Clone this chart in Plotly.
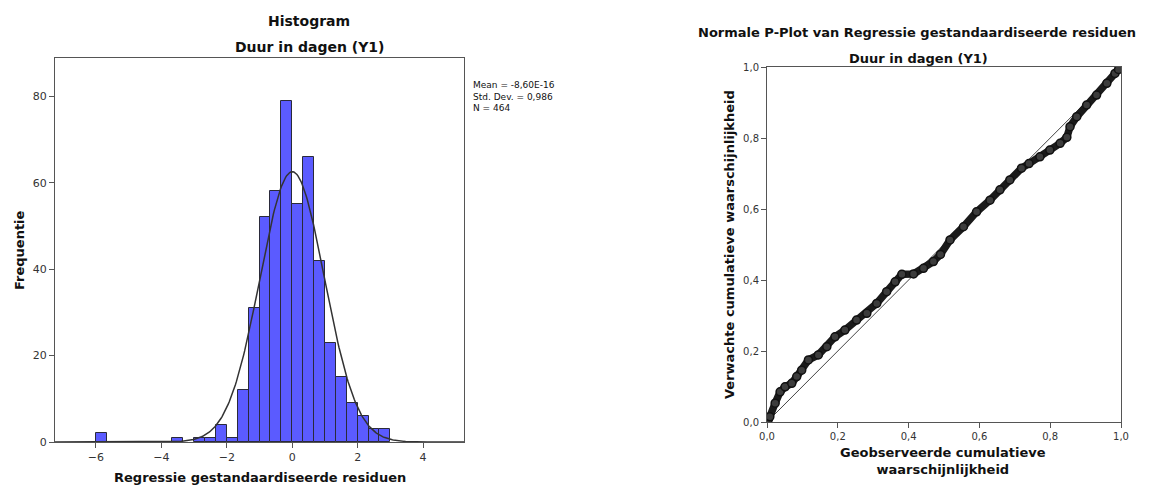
import numpy as np
import plotly.graph_objects as go

W, H = 1152, 486

# ---------------- data ----------------
# histogram: bins of width 1/3 starting at -6
bin_start = -6.0
bin_width = 1.0 / 3.0
counts = [2, 0, 0, 0, 0, 0, 0, 1, 0, 1, 1, 4, 1, 12, 31, 52, 58, 79, 55, 66,
          42, 23, 15, 9, 6, 3, 3]
hist_xticks = [-6, -4, -2, 0, 2, 4]
hist_yticks = [0, 20, 40, 60, 80]
stat_mean = -8.60e-16
stat_sd = 0.986
stat_n = 464

# P-P plot: observed cumulative prob (x) vs expected cumulative prob (y)
pp_obs = [0.004, 0.008, 0.023, 0.037, 0.051, 0.070, 0.084, 0.098, 0.117, 0.145,
          0.169, 0.192, 0.220, 0.253, 0.282, 0.310, 0.338, 0.362, 0.381, 0.414,
          0.442, 0.470, 0.490, 0.517, 0.555, 0.592, 0.630, 0.658, 0.686, 0.719,
          0.740, 0.771, 0.799, 0.828, 0.847, 0.856, 0.875, 0.903, 0.931, 0.960,
          0.983, 0.993]
pp_exp = [0.008, 0.015, 0.053, 0.085, 0.099, 0.109, 0.128, 0.146, 0.175, 0.189,
          0.212, 0.240, 0.259, 0.287, 0.306, 0.334, 0.367, 0.395, 0.416, 0.417,
          0.433, 0.452, 0.472, 0.513, 0.550, 0.592, 0.625, 0.654, 0.682, 0.715,
          0.728, 0.747, 0.766, 0.785, 0.802, 0.832, 0.860, 0.893, 0.921, 0.954,
          0.982, 0.993]
ref_line = [0.0, 1.0]
pp_ticks = [0.0, 0.2, 0.4, 0.6, 0.8, 1.0]
pp_ticktext = ["0,0", "0,2", "0,4", "0,6", "0,8", "1,0"]

# ---------------- helpers ----------------
def px(x):
    return x / W

def py(y):
    return 1 - y / H

FONT = "DejaVu Sans"
TXT = "#111111"

fig = go.Figure()

# histogram bars
centers = [bin_start + (i + 0.5) * bin_width for i in range(len(counts))]
fig.add_trace(go.Bar(
    x=centers, y=[c if c > 0 else None for c in counts], width=bin_width,
    marker=dict(color="#5b5bff", line=dict(color="#2a2a3a", width=1)),
    xaxis="x", yaxis="y", showlegend=False, hoverinfo="x+y"))

# fitted normal curve
xs = np.linspace(-7.25, 5.25, 400)
ys = stat_n * bin_width / (stat_sd * np.sqrt(2 * np.pi)) * np.exp(-0.5 * ((xs - stat_mean) / stat_sd) ** 2)
fig.add_trace(go.Scatter(x=xs, y=ys, mode="lines", line=dict(color="#333333", width=1.5),
                         xaxis="x", yaxis="y", showlegend=False, hoverinfo="skip"))

# P-P plot
fig.add_trace(go.Scatter(x=ref_line, y=ref_line, mode="lines",
                         line=dict(color="#444444", width=1),
                         xaxis="x2", yaxis="y2", showlegend=False, hoverinfo="skip"))
fig.add_trace(go.Scatter(x=pp_obs, y=pp_exp, mode="lines+markers",
                         line=dict(color="#1a1a1a", width=7.5),
                         marker=dict(symbol="circle", size=8, color="#3c3c3c",
                                     line=dict(color="#111111", width=1.5)),
                         xaxis="x2", yaxis="y2", showlegend=False))

axis_common = dict(showgrid=False, zeroline=False, showline=True, mirror=True,
                   linecolor="#555555", linewidth=1, ticks="outside", ticklen=5,
                   tickcolor="#555555", automargin=False)

fig.update_layout(
    width=W, height=H,
    margin=dict(l=0, r=0, t=0, b=0, autoexpand=False),
    paper_bgcolor="white", plot_bgcolor="white",
    bargap=0,
    font=dict(family=FONT, color=TXT),
    xaxis=dict(domain=[px(55), px(464)], range=[-7.25, 5.25], tickvals=hist_xticks,
               tickfont=dict(size=11, color="#333333"), anchor="y", **axis_common),
    yaxis=dict(domain=[py(442), py(58)], range=[0, 88.9], tickvals=hist_yticks,
               tickfont=dict(size=11, color="#333333"), anchor="x", **axis_common),
    xaxis2=dict(domain=[px(767), px(1121)], range=[0, 1], tickvals=pp_ticks, ticktext=pp_ticktext,
                tickfont=dict(size=10, color="#333333"), anchor="y2", **axis_common),
    yaxis2=dict(domain=[py(422), py(67)], range=[0, 1], tickvals=pp_ticks, ticktext=pp_ticktext,
                tickfont=dict(size=10, color="#333333"), anchor="x2", **axis_common),
)

def ann(text, x, y, size, bold=True, angle=0, xanchor="center", yanchor="middle", align="center"):
    fig.add_annotation(text=f"<b>{text}</b>" if bold else text,
                       x=px(x), y=py(y), xref="paper", yref="paper",
                       showarrow=False, textangle=angle, xanchor=xanchor, yanchor=yanchor,
                       align=align, font=dict(family=FONT, size=size, color=TXT))

ann("Histogram", 309, 21, 14)
ann("Duur in dagen (Y1)", 309, 47, 14)
ann("Regressie gestandaardiseerde residuen", 259.5, 477, 13)
ann("Frequentie", 19, 250, 13, angle=-90)
ann(f"Mean = -8,60E-16<br>Std. Dev. = {str(stat_sd).replace('.', ',')}<br>N = {stat_n}",
    471, 78, 9, bold=False, xanchor="left", yanchor="top", align="left")

ann("Normale P-Plot van Regressie gestandaardiseerde residuen", 917, 33, 13)
ann("Duur in dagen (Y1)", 918, 59, 13)
ann("Geobserveerde cumulatieve<br>waarschijnlijkheid", 943, 461, 13)
ann("Verwachte cumulatieve waarschijnlijkheid", 729, 245, 13, angle=-90)

fig.write_html("out.html", config={"displayModeBar": False},
               post_script="document.body.style.margin='0px';document.body.style.overflow='hidden';")
